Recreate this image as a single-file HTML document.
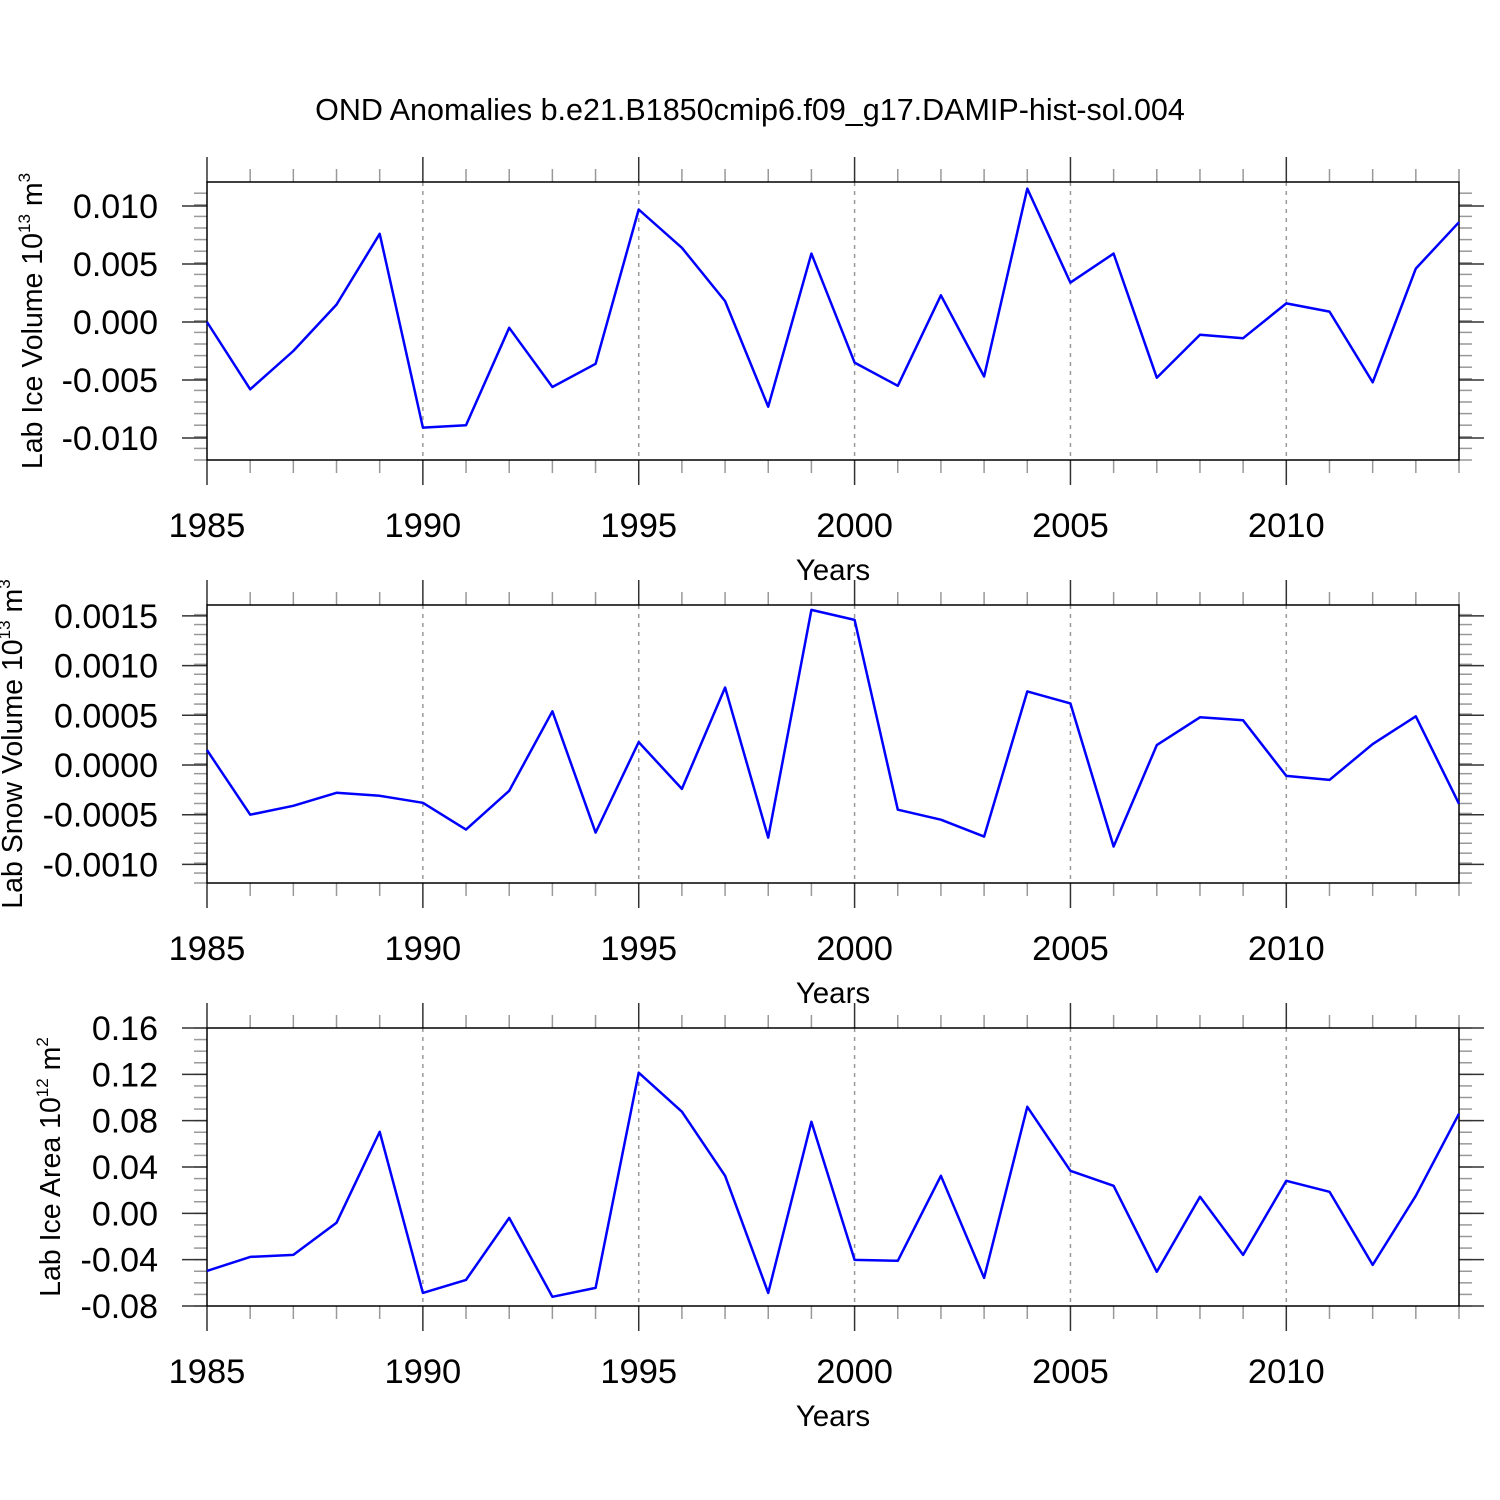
<!DOCTYPE html>
<html><head><meta charset="utf-8"><style>
html,body{margin:0;padding:0;background:#fff;}
svg{display:block;font-family:"Liberation Sans",sans-serif;}
</style></head><body>
<svg id="chart" width="1500" height="1500" viewBox="0 0 1500 1500" xmlns="http://www.w3.org/2000/svg">
<rect width="1500" height="1500" fill="#fff"/>
<text x="750" y="120" font-size="30.5" text-anchor="middle">OND Anomalies b.e21.B1850cmip6.f09_g17.DAMIP-hist-sol.004</text>
</svg>
<script>
const years = [1985,1986,1987,1988,1989,1990,1991,1992,1993,1994,1995,1996,1997,1998,1999,2000,2001,2002,2003,2004,2005,2006,2007,2008,2009,2010,2011,2012,2013,2014];
const xTickLabels = [1985,1990,1995,2000,2005,2010];
const iceVolume = [0,-0.0058,-0.0025,0.0015,0.0076,-0.0091,-0.0089,-0.0005,-0.0056,-0.0036,0.0097,0.0064,0.0018,-0.0073,0.0059,-0.0035,-0.0055,0.0023,-0.0047,0.0115,0.0034,0.0059,-0.0048,-0.0011,-0.0014,0.0016,0.0009,-0.0052,0.0046,0.0086];
const snowVolume = [0.00015,-0.0005,-0.00041,-0.00028,-0.00031,-0.00038,-0.00065,-0.00026,0.00054,-0.00068,0.00023,-0.00024,0.00078,-0.00073,0.00156,0.00146,-0.00045,-0.00055,-0.00072,0.00074,0.00062,-0.00082,0.0002,0.00048,0.00045,-0.00011,-0.00015,0.00021,0.00049,-0.00039];
const iceArea = [-0.0497,-0.0376,-0.0359,-0.0082,0.0704,-0.0687,-0.0575,-0.0039,-0.0721,-0.0644,0.1214,0.0877,0.0324,-0.0687,0.079,-0.0402,-0.041,0.0324,-0.0557,0.092,0.0367,0.0238,-0.0505,0.0143,-0.0359,0.0281,0.0186,-0.0445,0.0151,0.086];
const iceVolumeTicks = ["0.010","0.005","0.000","-0.005","-0.010"];
const snowVolumeTicks = ["0.0015","0.0010","0.0005","0.0000","-0.0005","-0.0010"];
const iceAreaTicks = ["0.16","0.12","0.08","0.04","0.00","-0.04","-0.08"];

const NS="http://www.w3.org/2000/svg";
const svg=document.getElementById('chart');
function mk(tag,attrs,parent){const e=document.createElementNS(NS,tag);for(const k in attrs)e.setAttribute(k,attrs[k]);(parent||svg).appendChild(e);return e;}

const X0=207,X1=1459;
function xScale(yr){return X0+(yr-1985)*(X1-X0)/29;}

function panel(name,top,bottom,vTop,vBot,ticks,minorStep,data,ytitle,supExp,supUnit){
  const g=mk('g',{});
  
  
  const yS=v=>top+(vTop-v)*(bottom-top)/(vTop-vBot);
  xTickLabels.forEach(yr=>{
    if(yr===1985)return;
    const l=mk('line',{x1:xScale(yr),x2:xScale(yr),y1:top,y2:bottom,stroke:'#999','stroke-width':1.5,'stroke-dasharray':'4,5'},g);
    
    
  });
  for(let yr=1985;yr<=2014;yr++){
    const x=xScale(yr),maj=(yr%5===0),len=maj?25:13,col=maj?'#333':'#999';
    mk('line',{x1:x,x2:x,y1:top,y2:top-len,stroke:col,'stroke-width':1.5},g);
    mk('line',{x1:x,x2:x,y1:bottom,y2:bottom+len,stroke:col,'stroke-width':1.5},g);
  }
  const n=Math.round((vTop-vBot)/minorStep);
  for(let i=0;i<=n+2;i++){
    const v=vBot+i*minorStep; if(v>vTop+1e-9) break;
    const y=yS(v);
    mk('line',{x1:X0,x2:X0-13,y1:y,y2:y,stroke:'#999','stroke-width':1.5},g);
    mk('line',{x1:X1,x2:X1+13,y1:y,y2:y,stroke:'#999','stroke-width':1.5},g);
  }
  ticks.forEach(t=>{
    const y=yS(parseFloat(t));
    mk('line',{x1:X0,x2:X0-25,y1:y,y2:y,stroke:'#333','stroke-width':1.5},g);
    mk('line',{x1:X1,x2:X1+25,y1:y,y2:y,stroke:'#333','stroke-width':1.5},g);
    const tx=mk('text',{x:158,y:y+12,'font-size':34,'text-anchor':'end'},g);
    tx.textContent=t;
    
    
  });
  const fr=mk('rect',{x:X0,y:top,width:X1-X0,height:bottom-top,fill:'none',stroke:'#000','stroke-width':1.5},g);
  
  
  xTickLabels.forEach(yr=>{
    const tx=mk('text',{x:xScale(yr),y:bottom+77,'font-size':34.5,'text-anchor':'middle'},g);
    tx.textContent=yr;
    
    
  });
  const xt=mk('text',{x:833,y:bottom+120,'font-size':29.5,'text-anchor':'middle'},g);
  xt.textContent='Years';
  
  
  const cy=(top+bottom)/2;
  const yt=mk('text',{x:0,y:0,'font-size':28.5,'text-anchor':'middle',transform:`translate(${ytitle.x},${cy}) rotate(-90)`},g);
  
  
  const t1=mk('tspan',{},yt);t1.textContent=ytitle.text+' 10';
  const t2=mk('tspan',{'font-size':17,dy:-12},yt);t2.textContent=supExp;
  const t3=mk('tspan',{dy:12},yt);t3.textContent=' m';
  const t4=mk('tspan',{'font-size':17,dy:-12},yt);t4.textContent=supUnit;
  const pts=data.map((v,i)=>xScale(years[i]).toFixed(1)+','+yS(v).toFixed(1)).join(' ');
  const pl=mk('polyline',{points:pts,fill:'none',stroke:'#0000ff','stroke-width':2.5,'stroke-linejoin':'round'},g);
  
  
}
panel('ice-volume',182,460,(322-182)/11600,(322-460)/11600,iceVolumeTicks,0.001,iceVolume,{x:42,text:'Lab Ice Volume'},'13','3');
panel('snow-volume',605,883,(765-605)*0.0005/49.7,(765-883)*0.0005/49.7,snowVolumeTicks,0.0001,snowVolume,{x:22,text:'Lab Snow Volume'},'13','3');
panel('ice-area',1028,1306,0.16,-0.08,iceAreaTicks,0.01,iceArea,{x:60,text:'Lab Ice Area'},'12','2');
</script>
</body></html>
